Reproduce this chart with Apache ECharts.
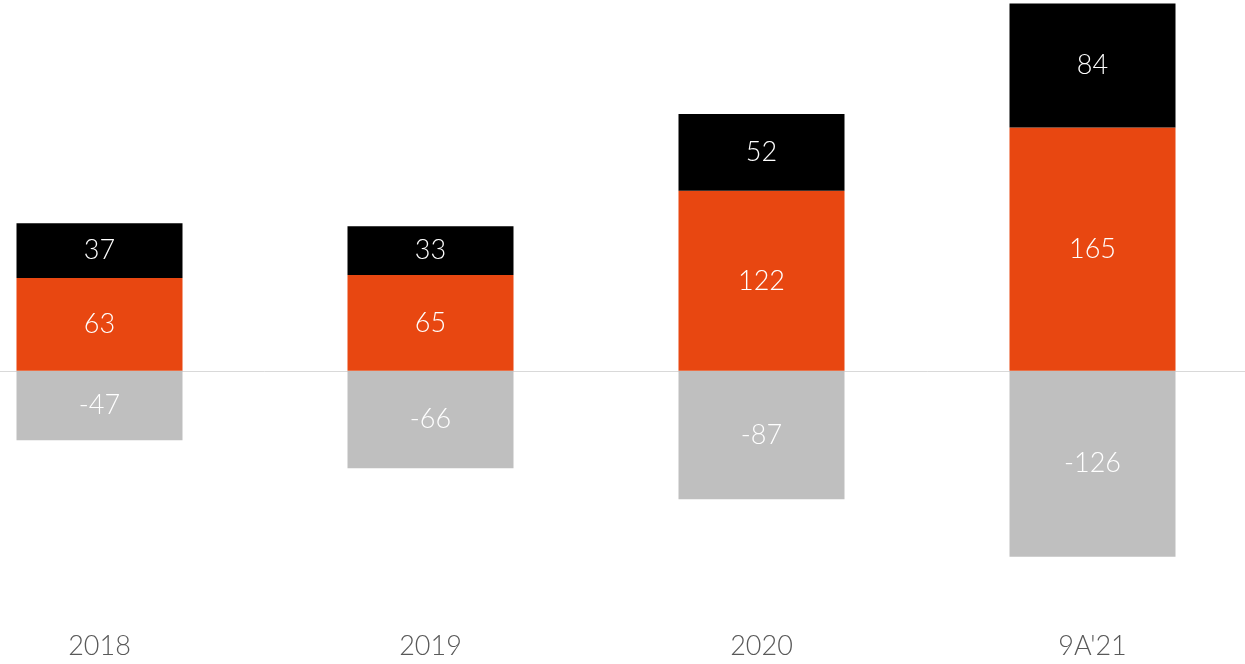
<!DOCTYPE html>
<html>
<head>
<meta charset="utf-8">
<script src="https://cdn.jsdelivr.net/npm/echarts@6/dist/echarts.min.js"></script>
<style>
  html, body { margin: 0; padding: 0; background: #ffffff; }
  #frame { position: relative; width: 1245px; height: 664px; overflow: hidden; }
  /* plot is wider than the frame so that the outer bands bleed off both edges */
  #chart { position: absolute; left: -66px; top: 0; width: 1324px; height: 664px; }
</style>
</head>
<body>
<div id="frame"><div id="chart"></div></div>
<script>
// Period labels along the bottom
const categories = ['2018', '2019', '2020', "9A'21"];
// Stacked components per period
const orangeValues = [63, 65, 122, 165];
const blackValues = [37, 33, 52, 84];
const greyValues = [-47, -66, -87, -126];

const FONT = "'Lato', 'Open Sans', sans-serif";

const valueLabel = {
  show: true,
  position: 'inside',
  color: '#ffffff',
  fontFamily: FONT,
  fontWeight: 300,
  fontSize: 27
};

function barSeries(name, data, color) {
  return {
    name: name,
    type: 'bar',
    stack: 'total',
    data: data,
    barWidth: 166,
    itemStyle: { color: color },
    label: valueLabel,
    emphasis: { disabled: true }
  };
}

const chart = echarts.init(document.getElementById('chart'), null, { renderer: 'canvas' });
chart.setOption({
  animation: false,
  backgroundColor: '#ffffff',
  grid: { left: 0, right: 0, top: 2, bottom: 35, containLabel: false },
  xAxis: {
    type: 'category',
    data: categories,
    axisLine: { onZero: true, lineStyle: { color: '#d9d9d9', width: 1 } },
    axisTick: { show: false },
    axisLabel: {
      color: '#595959',
      fontFamily: FONT,
      fontWeight: 300,
      fontSize: 27,
      margin: 4,
      verticalAlign: 'top'
    },
    position: 'bottom'
  },
  yAxis: {
    type: 'value',
    min: -175,
    max: 250,
    show: false,
    splitLine: { show: false }
  },
  series: [
    barSeries('grey', greyValues, '#bfbfbf'),
    barSeries('orange', orangeValues, '#e84711'),
    barSeries('black', blackValues, '#000000')
  ]
});
</script>
</body>
</html>
